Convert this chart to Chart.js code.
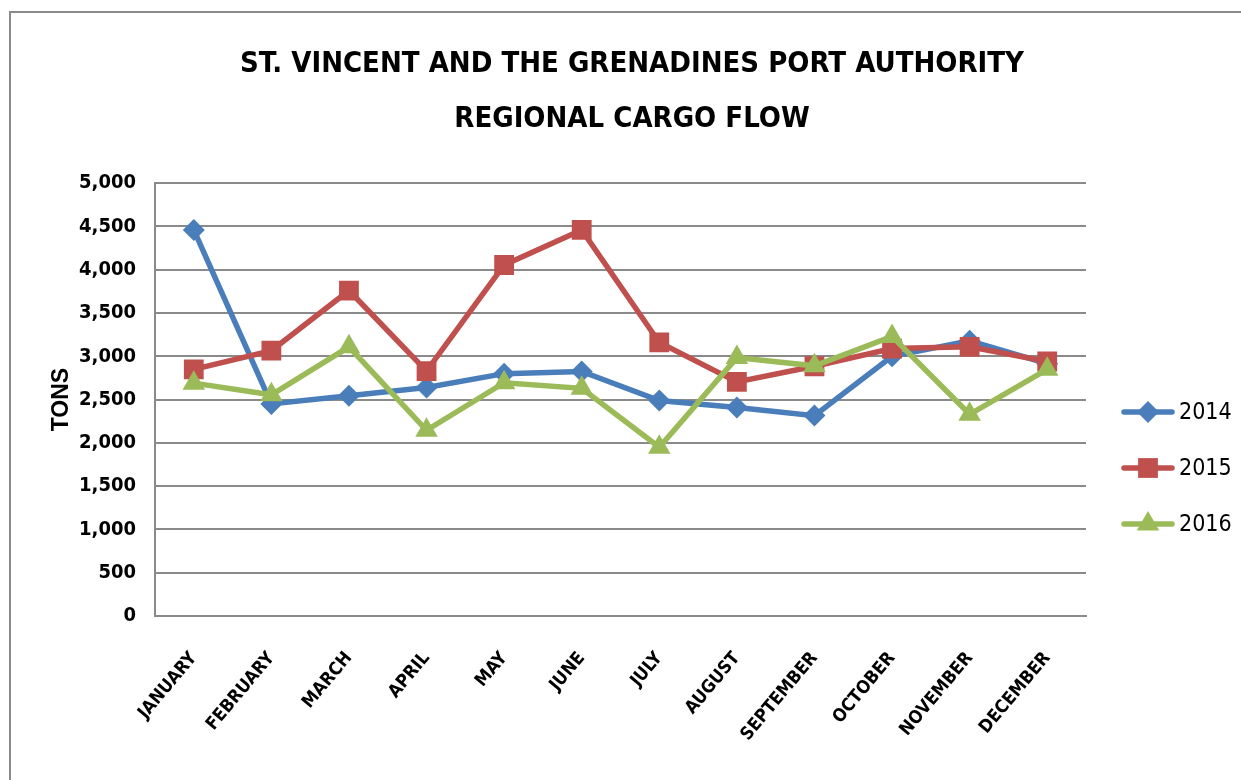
<!DOCTYPE html>
<html>
<head>
<meta charset="utf-8">
<script src="https://cdn.jsdelivr.net/npm/chart.js@4.4.1/dist/chart.umd.min.js"></script>
<style>
  html, body { margin: 0; padding: 0; background: #fff; }
  #wrap { position: relative; width: 1241px; height: 780px; overflow: hidden; }
  #frame { position: absolute; left: 9px; top: 11px; width: 1300px; height: 900px; border: 2px solid #8a8a8a; box-sizing: border-box; }
  canvas { position: absolute; left: 0; top: 0; }
</style>
</head>
<body>
<div id="wrap">
  <div id="frame"></div>
  <canvas id="c" width="1241" height="780"></canvas>
</div>
<script>
const months = ["JANUARY","FEBRUARY","MARCH","APRIL","MAY","JUNE","JULY","AUGUST","SEPTEMBER","OCTOBER","NOVEMBER","DECEMBER"];
const seriesNames = ["2014","2015","2016"];
const tons2014 = [4460, 2450, 2545, 2640, 2800, 2825, 2490, 2410, 2315, 3000, 3180, 2915];
const tons2015 = [2850, 3065, 3760, 2830, 4055, 4460, 3160, 2705, 2885, 3090, 3110, 2940];
const tons2016 = [2690, 2555, 3110, 2145, 2695, 2630, 1950, 2985, 2890, 3230, 2330, 2850];
const yTicks = [0, 500, 1000, 1500, 2000, 2500, 3000, 3500, 4000, 4500, 5000];
const titleLines = ["ST. VINCENT AND THE GRENADINES PORT AUTHORITY", "REGIONAL CARGO FLOW"];
const yTitle = "TONS";

const COND = "'DejaVu Sans Condensed', 'Liberation Sans Narrow', sans-serif";
const SANS = "'Liberation Sans', Arial, sans-serif";

const legendPlugin = {
  id: 'lineLegend',
  afterDraw(chart) {
    const ctx = chart.ctx;
    const ys = [412, 468, 524];
    chart.data.datasets.forEach((ds, i) => {
      const y = ys[i];
      ctx.save();
      ctx.strokeStyle = ds.borderColor;
      ctx.lineWidth = ds.borderWidth;
      ctx.lineCap = 'round';
      ctx.beginPath();
      ctx.moveTo(1124, y);
      ctx.lineTo(1172, y);
      ctx.stroke();
      ctx.fillStyle = ds.pointBackgroundColor;
      ctx.strokeStyle = ds.pointBorderColor;
      Chart.helpers.drawPoint(ctx, {pointStyle: ds.pointStyle, radius: ds.pointRadius, rotation: 0, borderWidth: 0}, 1148, y);
      ctx.fillStyle = '#000';
      ctx.font = "23px " + COND;
      ctx.textBaseline = 'middle';
      ctx.textAlign = 'left';
      ctx.fillText(ds.label, 1179, y + 1);
      ctx.restore();
    });
  }
};

const mk = (label, data, color, style, r) => ({
  label, data,
  borderColor: color, backgroundColor: color,
  pointBackgroundColor: color, pointBorderColor: color,
  borderWidth: 5.5, pointStyle: style, pointRadius: r, pointHoverRadius: r,
  pointBorderWidth: 0, tension: 0, fill: false
});

new Chart(document.getElementById('c'), {
  type: 'line',
  data: {
    labels: months,
    datasets: [
      Object.assign(mk(seriesNames[0], tons2014, '#4a7ebb', 'rectRot', 11), {order: 3}),
      Object.assign(mk(seriesNames[1], tons2015, '#c0504d', 'rect', 14), {order: 2}),
      Object.assign(mk(seriesNames[2], tons2016, '#9bbb59', 'triangle', 13), {order: 1})
    ]
  },
  options: {
    responsive: false,
    animation: false,
    events: [],
    layout: { padding: { left: 23, right: 0, top: 0, bottom: 0 } },
    plugins: {
      legend: { display: false },
      tooltip: { enabled: false },
      title: {
        display: true,
        text: titleLines,
        color: '#000',
        font: { family: COND, size: 29, weight: 'bold', lineHeight: 1.9 },
        padding: { top: 37, bottom: 36 }
      }
    },
    scales: {
      x: {
        offset: true,
        grid: { display: false, drawTicks: false },
        border: { display: true, color: '#8a8a8a', width: 2 },
        ticks: {
          autoSkip: false, maxRotation: 50, minRotation: 50, padding: 32,
          color: '#000',
          font: { family: COND, size: 18, weight: 'bold' }
        },
        afterFit(s) { s.height = 164; }
      },
      y: {
        min: 0, max: 5000,
        afterBuildTicks(s) { s.ticks = yTicks.map(v => ({ value: v })); },
        grid: { color: '#8a8a8a', lineWidth: 2, drawTicks: false },
        border: { display: true, color: '#8a8a8a', width: 2 },
        ticks: {
          padding: 19, color: '#000',
          font: { family: COND, size: 20, weight: 'bold' },
          callback: v => v.toLocaleString('en-US')
        },
        title: {
          display: true, text: yTitle, color: '#000',
          font: { family: SANS, size: 23, weight: 'bold' },
          padding: { top: 25, bottom: 0 }
        },
        afterFit(s) { s.width = 132; }
      },
      yLegendSpace: {
        position: 'right',
        display: true,
        grid: { display: false, drawTicks: false },
        border: { display: false },
        ticks: { display: false },
        afterFit(s) { s.width = 155; }
      }
    }
  },
  plugins: [legendPlugin]
});
</script>
</body>
</html>
